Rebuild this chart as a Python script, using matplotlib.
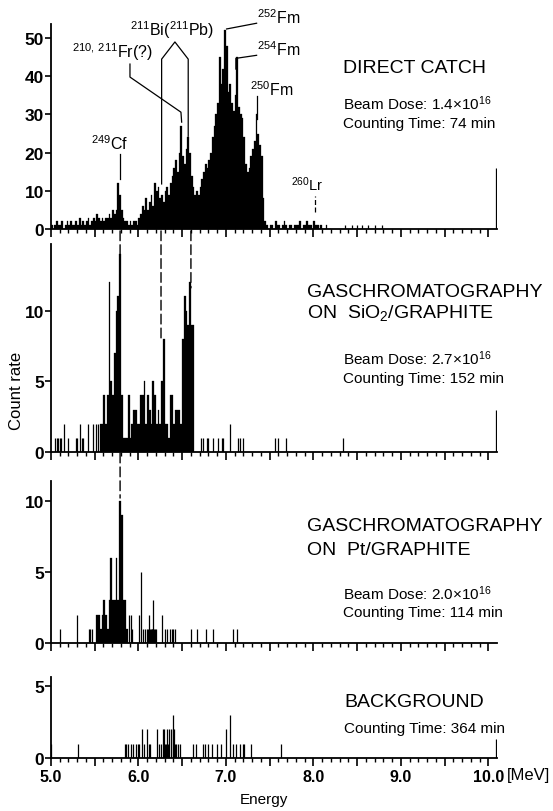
import numpy as np
import matplotlib
matplotlib.use("Agg")
from matplotlib import pyplot as plt
from matplotlib.patches import ConnectionPatch
from matplotlib.ticker import FixedLocator, FuncFormatter

plt.rcParams['font.family'] = ['Liberation Sans', 'DejaVu Sans']
plt.rcParams['mathtext.fontset'] = 'custom'
plt.rcParams['mathtext.rm'] = 'Liberation Sans'
plt.rcParams['mathtext.default'] = 'regular'

BIN = 0.02  # MeV per plotted channel

# direct catch: dense spectrum from 5.00 MeV in 0.02 MeV channels
direct_start = 5.00
direct_counts = [
    1, 0, 1, 2, 1, 1, 2, 0, 1, 2,        # 5.00
    1, 2, 1, 1, 2, 1, 3, 1, 2, 1,        # 5.20
    2, 3, 1, 2, 3, 2, 4, 3, 2, 3,        # 5.40
    2, 3, 3, 4, 3, 5, 4, 5, 12, 9,       # 5.60
    5, 3, 2, 2, 1, 2, 1, 2, 2, 1,        # 5.80
    3, 4, 6, 5, 8, 5, 7, 9, 6, 12,       # 6.00
    10, 11, 8, 9, 7, 10, 11, 9, 12, 14,  # 6.20
    16, 18, 15, 20, 27, 19, 17, 21, 24, 20,  # 6.40
    14, 11, 9, 10, 9, 11, 13, 15, 17, 16,    # 6.60
    18, 20, 24, 27, 30, 33, 45, 38, 42, 52,  # 6.80
    48, 36, 38, 33, 31, 35, 45, 32, 30, 29,  # 7.00
    24, 17, 15, 16, 19, 21, 23, 30, 25, 22,  # 7.20
    19, 8, 2, 1, 0, 1, 1, 0, 2, 1,       # 7.40
    1, 0, 1, 2, 1, 0, 1, 1, 0, 1,        # 7.60
    1, 1, 2, 0, 1, 1, 2, 1, 1, 0,        # 7.80
    2, 1, 1, 0, 1, 0, 0, 1, 0, 0,        # 8.00
]
direct_e = [8.36, 8.44, 8.50, 8.56, 8.62, 8.70, 8.78, 10.09]
direct_n = [1, 1, 1, 1, 1, 1, 1, 16]

# SiO2/graphite
sio2_start = 5.56
sio2_counts = [
    2, 2, 4, 2, 4, 12, 5, 4, 7, 10,
    11, 14, 4, 1, 1, 1, 4, 1, 2, 3,
    3, 2, 2, 4, 4, 5, 2, 4, 3, 2,
    5, 4, 2, 3, 2, 5, 8, 2, 2, 1,
    4, 4, 2, 3, 3, 3, 2, 8, 11, 10,
    9, 12, 9, 9,
]
sio2_e = [5.05, 5.07, 5.08, 5.10, 5.12, 5.15, 5.20, 5.29, 5.30, 5.33, 5.35,
          5.37, 5.42, 5.48, 5.52, 5.54, 6.72, 6.74, 6.78, 6.80, 6.85, 6.91,
          6.95, 6.97, 7.05, 7.14, 7.16, 7.19, 7.56, 7.60, 7.69, 8.34, 10.09]
sio2_n = [1, 1, 1, 1, 1, 2, 1, 1, 1, 2, 1,
          1, 2, 2, 2, 2, 1, 1, 1, 1, 1, 1,
          1, 1, 2, 1, 1, 1, 1, 1, 1, 1, 3]

# Pt/graphite
pt_start = 5.52
pt_counts = [2, 2, 1, 2, 3, 2, 1, 3, 6, 3, 3, 6, 3, 10, 9, 3, 3, 1]
pt_e = [5.10, 5.30, 5.43, 5.45, 5.47, 5.89, 5.91, 5.93, 6.01, 6.03, 6.05,
        6.08, 6.10, 6.11, 6.12, 6.13, 6.14, 6.15, 6.16, 6.17, 6.18, 6.19,
        6.20, 6.27, 6.30, 6.33, 6.36, 6.38, 6.40, 6.42, 6.60, 6.67, 6.77,
        6.85, 7.08, 7.13]
pt_n = [1, 2, 1, 1, 1, 2, 2, 1, 2, 5, 1,
        1, 1, 1, 2, 1, 1, 1, 1, 3, 1, 1,
        1, 2, 1, 1, 1, 1, 1, 1, 1, 1, 1,
        1, 1, 1]

# background
bg_e = [5.00, 5.31, 5.85, 5.86, 5.88, 5.92, 5.94, 5.97, 5.99, 6.01, 6.04,
        6.06, 6.10, 6.12, 6.13, 6.21, 6.24, 6.26, 6.28, 6.29, 6.30, 6.31,
        6.33, 6.34, 6.35, 6.37, 6.39, 6.40, 6.41, 6.42, 6.43, 6.45, 6.48,
        6.62, 6.66, 6.74, 6.76, 6.80, 6.84, 6.90, 6.94, 7.00, 7.05, 7.08,
        7.12, 7.16, 7.19, 7.21, 7.29, 7.63, 10.09]
bg_n = [1, 1, 1, 1, 1, 1, 1, 1, 1, 1, 2,
        1, 2, 1, 1, 2, 1, 1, 2, 2, 1, 1,
        2, 1, 2, 2, 3, 2, 2, 1, 1, 1, 1,
        1, 1, 1, 1, 1, 1, 1, 1, 2, 3, 1,
        1, 1, 1, 1, 1, 1, 1.3]

W, H = 553, 812
fig = plt.figure(figsize=(W / 100, H / 100), dpi=100)


def px_axes(top, bottom):
    return fig.add_axes([51 / W, 1 - bottom / H, 446 / W, (bottom - top) / H])


ax1 = px_axes(25, 230)
ax2 = px_axes(245, 453)
ax3 = px_axes(482, 644)
ax4 = px_axes(678, 759)
axes = [ax1, ax2, ax3, ax4]

ax1.set_ylim(0, 53.7)
ax2.set_ylim(0, 14.7)
ax3.set_ylim(0, 11.4)
ax4.set_ylim(0, 5.6)
ax1.set_yticks([0, 10, 20, 30, 40, 50])
ax2.set_yticks([0, 5, 10])
ax3.set_yticks([0, 5, 10])
ax4.set_yticks([0, 5])

major = [5.0 + 0.5 * i for i in range(11)]
minor = [5.0 + 0.1 * i for i in range(51)]
for ax in axes:
    ax.set_xlim(5.0, 10.1)
    ax.spines['top'].set_visible(False)
    ax.spines['right'].set_visible(False)
    ax.spines['left'].set_linewidth(1.3)
    ax.spines['bottom'].set_linewidth(1.3)
    ax.xaxis.set_major_locator(FixedLocator(major))
    ax.xaxis.set_minor_locator(FixedLocator(minor))
    ax.tick_params(axis='x', which='major', length=6, width=1.2, direction='out')
    ax.tick_params(axis='x', which='minor', length=3, width=1.0, direction='out')
    ax.tick_params(axis='y', length=4, width=1.2, pad=1, labelsize=12.5)
    for t in ax.get_yticklabels():
        t.set_fontweight('bold')
    ax.set_xticklabels([])
    ax.patch.set_alpha(0)

ax4.xaxis.set_major_formatter(FuncFormatter(
    lambda v, p: '%.1f' % v if abs(v - round(v)) < 1e-6 else ''))
ax4.tick_params(axis='x', which='major', labelsize=11.5, pad=2)
for t in ax4.get_xticklabels():
    t.set_fontweight('bold')


def dense(ax, start, counts):
    x = start + BIN * np.arange(len(counts))
    ax.bar(x, counts, width=BIN, align='edge', color='k',
           edgecolor='k', linewidth=0.2)


def lines(ax, e, n):
    ax.vlines(e, 0, n, color='k', linewidth=0.9)


dense(ax1, direct_start, direct_counts)
lines(ax1, direct_e, direct_n)
dense(ax2, sio2_start, sio2_counts)
lines(ax2, sio2_e, sio2_n)
dense(ax3, pt_start, pt_counts)
lines(ax3, pt_e, pt_n)
lines(ax4, bg_e, bg_n)

# isotope markers in the direct catch spectrum
lab = 11.5
kw = dict(color='k', linewidth=0.9, clip_on=False)
ax1.plot([5.79, 5.79], [13.2, 19.6], **kw)
ax1.text(5.67, 20.2, r'$^{249}$Cf', fontsize=lab, ha='center', va='bottom')

ax1.plot([5.903, 5.903, 6.486, 6.494], [43.2, 39.8, 30.6, 28.0], **kw)
ax1.text(5.70, 43.8, r'$^{210,\/211}$Fr(?)', fontsize=lab, ha='center',
         va='bottom')

ax1.plot([6.265, 6.265, 6.417, 6.569, 6.569], [11.8, 44.5, 49.0, 44.5, 24.3],
         **kw)
ax1.text(6.38, 49.6, r'$^{211}$Bi($^{211}$Pb)', fontsize=lab, ha='center',
         va='bottom')

ax1.plot([7.351, 7.008], [53.9, 52.4], **kw)
ax1.text(7.35, 53.2, r'$^{252}$Fm', fontsize=lab, ha='left', va='bottom')

ax1.plot([7.351, 7.114, 7.114], [45.5, 44.7, 41.9], **kw)
ax1.text(7.35, 44.8, r'$^{254}$Fm', fontsize=lab, ha='left', va='bottom')

ax1.plot([7.358, 7.358], [28.8, 34.8], **kw)
ax1.text(7.27, 34.3, r'$^{250}$Fm', fontsize=lab, ha='left', va='bottom')

ax1.plot([8.017, 8.017], [4.5, 8.6], color='k', linewidth=0.9,
         linestyle=(0, (4, 2)))
ax1.text(7.93, 9.4, r'$^{260}$Lr', fontsize=lab - 1, ha='center', va='bottom')

# dashed guides linking the peaks between panels
dash = dict(color='k', linewidth=1.0, linestyle=(0, (7, 3)))
for e, ax_to, v in [(5.79, ax3, 10.2), (6.258, ax2, 8.0), (6.60, ax2, 11.6)]:
    con = ConnectionPatch(xyA=(e, -0.5), coordsA=ax1.transData,
                          xyB=(e, v), coordsB=ax_to.transData, **dash)
    fig.add_artist(con)


def ftext(x, y, s, size, **k):
    fig.text(x / W, 1 - y / H, s, fontsize=size, va='baseline', **k)


big, small = 14, 11
ftext(343, 73, 'DIRECT CATCH', big)
ftext(343, 110, r'Beam Dose: 1.4$\times$10$^{16}$', small)
ftext(343, 128, 'Counting Time: 74 min', small)

ftext(307, 297, 'GASCHROMATOGRAPHY', big)
ftext(307, 318, r'ON  SiO$_2$/GRAPHITE', big)
ftext(343, 365, r'Beam Dose: 2.7$\times$10$^{16}$', small)
ftext(343, 383, 'Counting Time: 152 min', small)

ftext(307, 531, 'GASCHROMATOGRAPHY', big)
ftext(307, 555, 'ON  Pt/GRAPHITE', big)
ftext(343, 600, r'Beam Dose: 2.0$\times$10$^{16}$', small)
ftext(343, 617, 'Counting Time: 114 min', small)

ftext(344, 707, 'BACKGROUND', big)
ftext(344, 733, 'Counting Time: 364 min', small)

ftext(507, 780, '[MeV]', 12)
fig.text(17 / W, 1 - 391 / H, 'Count rate', rotation=90, fontsize=12,
         ha='center', va='center')
fig.text(264 / W, 1 - 800 / H, 'Energy', fontsize=11, ha='center',
         va='center')

fig.savefig('out.png', dpi=100)
